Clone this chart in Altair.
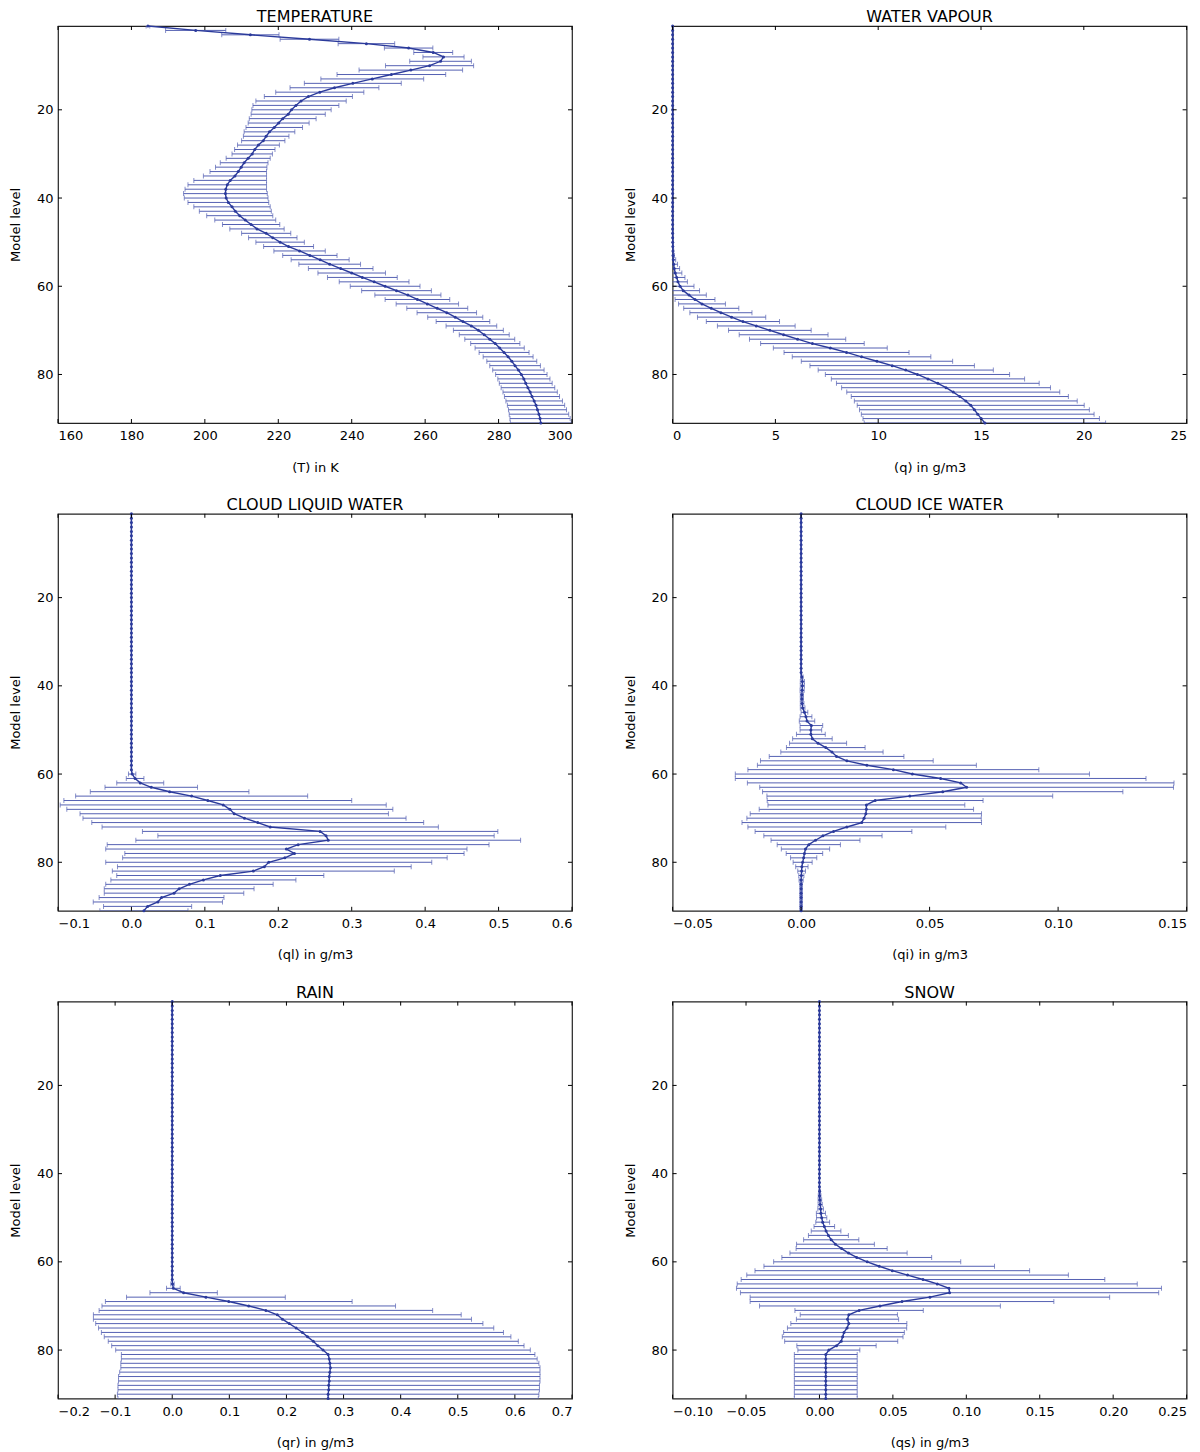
import altair as alt
import pandas as pd

levels = list(range(1, 92))

# ---------------- TEMPERATURE (K) ----------------
T_mean = [184.5, 197.5, 212.4, 228.5, 244.0, 255.5, 262.2, 265.0, 264.2, 261.2,
          256.1, 250.8, 245.6, 240.3, 235.3, 231.3, 228.2, 226.2, 224.8, 223.6,
          222.7, 221.2, 220.1, 218.9, 217.6, 216.7, 215.9, 214.6, 213.6, 212.9,
          211.8, 210.7, 209.9, 209.1, 208.2, 206.9, 206.1, 205.7, 205.6, 205.8,
          206.4, 207.4, 208.3, 209.5, 211.0, 212.6, 214.2, 216.7, 218.5, 220.5,
          222.8, 225.8, 228.6, 231.4, 234.0, 237.0, 240.0, 242.9, 246.1, 249.1,
          252.2, 255.3, 257.9, 260.6, 263.3, 265.9, 268.2, 270.3, 272.6, 274.5,
          276.1, 277.6, 279.1, 280.3, 281.5, 282.6, 283.6, 284.5, 285.4, 286.2,
          286.9, 287.4, 288.0, 288.6, 289.1, 289.7, 290.2, 290.6, 291.0, 291.3,
          291.5]
T_std = [0.5, 8.2, 7.8, 8.0, 7.7, 6.6, 5.3, 5.6, 8.4, 12.0,
         14.1, 14.8, 14.0, 13.2, 12.1, 12.0, 12.0, 12.3, 11.7, 10.8,
         10.1, 9.1, 8.3, 7.7, 6.9, 6.2, 5.9, 5.7, 5.5, 5.5,
         6.0, 6.5, 7.0, 7.7, 8.6, 9.9, 10.7, 11.1, 11.4, 11.4,
         11.0, 10.4, 9.8, 9.0, 8.3, 7.8, 7.4, 6.7, 6.6, 6.6,
         6.8, 7.0, 7.4, 7.9, 8.4, 8.8, 9.2, 9.5, 9.5, 9.5,
         9.5, 9.0, 8.8, 8.5, 8.3, 8.1, 7.5, 7.3, 6.9, 6.8,
         6.8, 6.8, 6.7, 6.7, 6.8, 6.8, 6.8, 6.9, 7.0, 7.0,
         7.1, 7.2, 7.3, 7.4, 7.5, 7.7, 7.8, 7.9, 8.1, 8.2,
         8.3]

# ---------------- WATER VAPOUR (g/m3) ----------------
q_mean = [0.0] * 48 + [0.003, 0.005,
          0.01, 0.015, 0.02, 0.03, 0.05, 0.08, 0.13, 0.20, 0.26, 0.36,
          0.52, 0.80, 1.09, 1.43, 1.88, 2.35, 2.87, 3.42, 4.07, 4.73,
          5.40, 6.08, 6.80, 7.67, 8.46, 9.19, 9.94, 10.68, 11.34, 11.91,
          12.42, 12.90, 13.30, 13.65, 13.97, 14.26, 14.50, 14.68, 14.84, 15.01,
          15.19]
q_std = [0.0] * 48 + [0.005, 0.01,
         0.02, 0.04, 0.07, 0.12, 0.19, 0.26, 0.32, 0.40, 0.46, 0.68,
         0.79, 0.84, 0.97, 1.14, 1.34, 1.51, 1.66, 1.78, 1.89, 2.01,
         2.16, 2.34, 2.52, 2.77, 3.04, 3.37, 3.68, 4.00, 4.26, 4.48,
         4.70, 4.93, 5.08, 5.18, 5.28, 5.42, 5.52, 5.59, 5.66, 5.75,
         5.87]

# ---------------- CLOUD LIQUID WATER (g/m3) ----------------
ql_mean = [0.0] * 59 + [0.001,
           0.005, 0.012, 0.027, 0.052, 0.082, 0.104, 0.125, 0.134, 0.140, 0.154,
           0.172, 0.189, 0.257, 0.265, 0.268, 0.227, 0.211, 0.222, 0.209, 0.187,
           0.181, 0.166, 0.121, 0.098, 0.079, 0.065, 0.058, 0.041, 0.036, 0.022,
           0.017]
ql_std = [0.0] * 59 + [0.005,
          0.012, 0.032, 0.063, 0.108, 0.158, 0.196, 0.222, 0.222, 0.210, 0.220,
          0.226, 0.229, 0.242, 0.229, 0.262, 0.260, 0.246, 0.231, 0.221, 0.222,
          0.200, 0.192, 0.141, 0.126, 0.114, 0.102, 0.095, 0.085, 0.088, 0.060,
          0.060]

# ---------------- CLOUD ICE WATER (g/m3) ----------------
qi_mean = [0.0] * 37 + [0.0003, 0.0005, 0.0005,
           0.0004, 0.0003, 0.0003, 0.0004, 0.0006, 0.0013, 0.0019, 0.0023, 0.0040, 0.0038,
           0.0038, 0.0044, 0.0066, 0.0096, 0.0120, 0.0138, 0.0178, 0.0256, 0.0359, 0.0433,
           0.0543, 0.0621, 0.0644, 0.0551, 0.0423, 0.0288, 0.0254, 0.0254, 0.0252, 0.0245,
           0.0236, 0.0178, 0.0126, 0.0085, 0.0056, 0.0030, 0.0017, 0.0013, 0.0010, 0.0006,
           0.0003, 0.0002, 0.0001, 0.0, 0.0, 0.0, 0.0, 0.0, 0.0, 0.0,
           0.0]
qi_std = [0.0] * 37 + [0.0005, 0.0008, 0.0008,
          0.0008, 0.0006, 0.0006, 0.0007, 0.0009, 0.0013, 0.0023, 0.0030, 0.0044, 0.0042,
          0.0056, 0.0077, 0.0111, 0.0153, 0.0199, 0.0262, 0.0336, 0.0426, 0.0566, 0.0689,
          0.0799, 0.0830, 0.0805, 0.0701, 0.0556, 0.0420, 0.0383, 0.0417, 0.0450, 0.0456,
          0.0466, 0.0385, 0.0305, 0.0230, 0.0173, 0.0123, 0.0094, 0.0071, 0.0051, 0.0037,
          0.0024, 0.0015, 0.0010, 0.0008, 0.0005, 0.0005, 0.0005, 0.0005, 0.0005, 0.0005,
          0.0005]

# ---------------- RAIN (g/m3) ----------------
qr_mean = [0.0] * 64 + [0.0005, 0.002, 0.020, 0.059, 0.099, 0.134,
           0.164, 0.184, 0.193, 0.205, 0.217, 0.228, 0.237, 0.247, 0.255, 0.264,
           0.273, 0.275, 0.276, 0.277, 0.276, 0.275, 0.275, 0.274, 0.274, 0.273,
           0.273]
qr_std = [0.0] * 64 + [0.003, 0.012, 0.059, 0.139, 0.216, 0.257,
          0.292, 0.322, 0.331, 0.339, 0.346, 0.352, 0.356, 0.359, 0.361, 0.363,
          0.362, 0.364, 0.366, 0.367, 0.368, 0.369, 0.369, 0.369, 0.369, 0.369,
          0.368]

# ---------------- SNOW (g/m3) ----------------
qs_mean = [0.0] * 43 + [0.0001, 0.0001, 0.0003, 0.0005, 0.0008, 0.0010, 0.0015,
           0.0022, 0.0033, 0.0045, 0.0061, 0.0080, 0.0109, 0.0151, 0.0198, 0.0254, 0.0325,
           0.0407, 0.0496, 0.0600, 0.0705, 0.0802, 0.0882, 0.0886, 0.0752, 0.0562, 0.0412,
           0.0270, 0.0200, 0.0191, 0.0200, 0.0188, 0.0167, 0.0158, 0.0148, 0.0116, 0.0064,
           0.0043, 0.0043, 0.0043, 0.0043, 0.0043, 0.0043, 0.0043, 0.0043, 0.0043, 0.0043,
           0.0043]
qs_std = [0.0] * 43 + [0.0005, 0.0009, 0.0012, 0.0014, 0.0019, 0.0031, 0.0035,
          0.0047, 0.0070, 0.0101, 0.0136, 0.0188, 0.0265, 0.0310, 0.0399, 0.0510, 0.0637,
          0.0785, 0.0935, 0.1095, 0.1238, 0.1362, 0.1447, 0.1424, 0.1224, 0.1034, 0.0820,
          0.0437, 0.0331, 0.0348, 0.0395, 0.0406, 0.0411, 0.0411, 0.0385, 0.0270, 0.0211,
          0.0214, 0.0214, 0.0214, 0.0214, 0.0214, 0.0214, 0.0214, 0.0214, 0.0214, 0.0214,
          0.0214]

titles = ["TEMPERATURE", "WATER VAPOUR", "CLOUD LIQUID WATER",
          "CLOUD ICE WATER", "RAIN", "SNOW"]
xlabels = ["(T) in K", "(q) in g/m3", "(ql) in g/m3",
           "(qi) in g/m3", "(qr) in g/m3", "(qs) in g/m3"]
domains = [[160, 300], [0, 25], [-0.1, 0.6], [-0.05, 0.15], [-0.2, 0.7], [-0.10, 0.25]]
xticks = [[160, 180, 200, 220, 240, 260, 280, 300],
          [0, 5, 10, 15, 20, 25],
          [-0.1, 0.0, 0.1, 0.2, 0.3, 0.4, 0.5, 0.6],
          [-0.05, 0.0, 0.05, 0.10, 0.15],
          [-0.2, -0.1, 0.0, 0.1, 0.2, 0.3, 0.4, 0.5, 0.6, 0.7],
          [-0.10, -0.05, 0.0, 0.05, 0.10, 0.15, 0.20, 0.25]]
formats = ["d", "d", ".1f", ".2f", ".1f", ".2f"]
yticks = [20, 40, 60, 80]

BAR = "#5561b3"
LINE = "#2b3a9b"
FONT = "DejaVu Sans"
W, H = 514, 397


def panel(title, xlabel, mean, std, domain, ticks, fmt):
    df = pd.DataFrame({
        "level": levels,
        "mean": mean,
        "lo": [m - s for m, s in zip(mean, std)],
        "hi": [m + s for m, s in zip(mean, std)],
    })
    xs = alt.Scale(domain=domain, nice=False, zero=False)
    ys = alt.Scale(domain=[1, 91], reverse=True, nice=False, zero=False)
    xax = alt.Axis(values=ticks, format=fmt, title=xlabel,
                   titlePadding=18.5, labelPadding=6.5)
    yax = alt.Axis(values=yticks, format="d", title="Model level",
                   titlePadding=14, labelPadding=5)
    X = lambda f: alt.X(f, scale=xs, axis=xax)
    Y = lambda f: alt.Y(f, scale=ys, axis=yax)
    base = alt.Chart(df)
    bars = base.mark_rule(color=BAR, strokeWidth=1, clip=True).encode(
        x=X("lo:Q"), x2="hi:Q", y=Y("level:Q"))
    cap_lo = base.mark_tick(color=BAR, orient="vertical", size=5, thickness=1,
                            clip=True).encode(x=X("lo:Q"), y=Y("level:Q"))
    cap_hi = base.mark_tick(color=BAR, orient="vertical", size=5, thickness=1,
                            clip=True).encode(x=X("hi:Q"), y=Y("level:Q"))
    line = base.mark_line(color=LINE, strokeWidth=1.4).encode(
        x=X("mean:Q"), y=Y("level:Q"), order="level:Q")
    pts = base.mark_circle(color=LINE, size=9, opacity=1).encode(
        x=X("mean:Q"), y=Y("level:Q"))

    ytk = alt.Chart(pd.DataFrame({"t": yticks}))
    yl = ytk.mark_rule(color="black").encode(
        y=Y("t:Q"), x=alt.value(0), x2=alt.value(4))
    yr = ytk.mark_rule(color="black").encode(
        y=Y("t:Q"), x=alt.value(W - 4), x2=alt.value(W))
    xtk = alt.Chart(pd.DataFrame({"t": ticks}))
    xb = xtk.mark_rule(color="black").encode(
        x=X("t:Q"), y=alt.value(H - 4), y2=alt.value(H))
    xt = xtk.mark_rule(color="black").encode(
        x=X("t:Q"), y=alt.value(0), y2=alt.value(4))

    return alt.layer(bars, cap_lo, cap_hi, line, pts, yl, yr, xb, xt).properties(
        width=W, height=H,
        title=alt.TitleParams(title, fontSize=16, font=FONT, fontWeight="normal",
                              color="black", offset=-2, anchor="middle"))


series = [(T_mean, T_std), (q_mean, q_std), (ql_mean, ql_std),
          (qi_mean, qi_std), (qr_mean, qr_std), (qs_mean, qs_std)]

panels = [panel(titles[i], xlabels[i], series[i][0], series[i][1],
                domains[i], xticks[i], formats[i]) for i in range(6)]

chart = alt.concat(*panels, columns=2, spacing={"row": 90.8, "column": 100.6},
                   bounds="flush").properties(
    padding=0, background="white"
).configure_view(
    stroke="#222222", strokeWidth=1.2
).configure_axis(
    labelFont=FONT, labelFontSize=13, labelColor="black",
    titleFont=FONT, titleFontSize=13, titleFontWeight="normal", titleColor="black",
    ticks=False, domain=False, grid=False
)

chart.save("out.html", embed_options={"renderer": "svg", "actions": False})
